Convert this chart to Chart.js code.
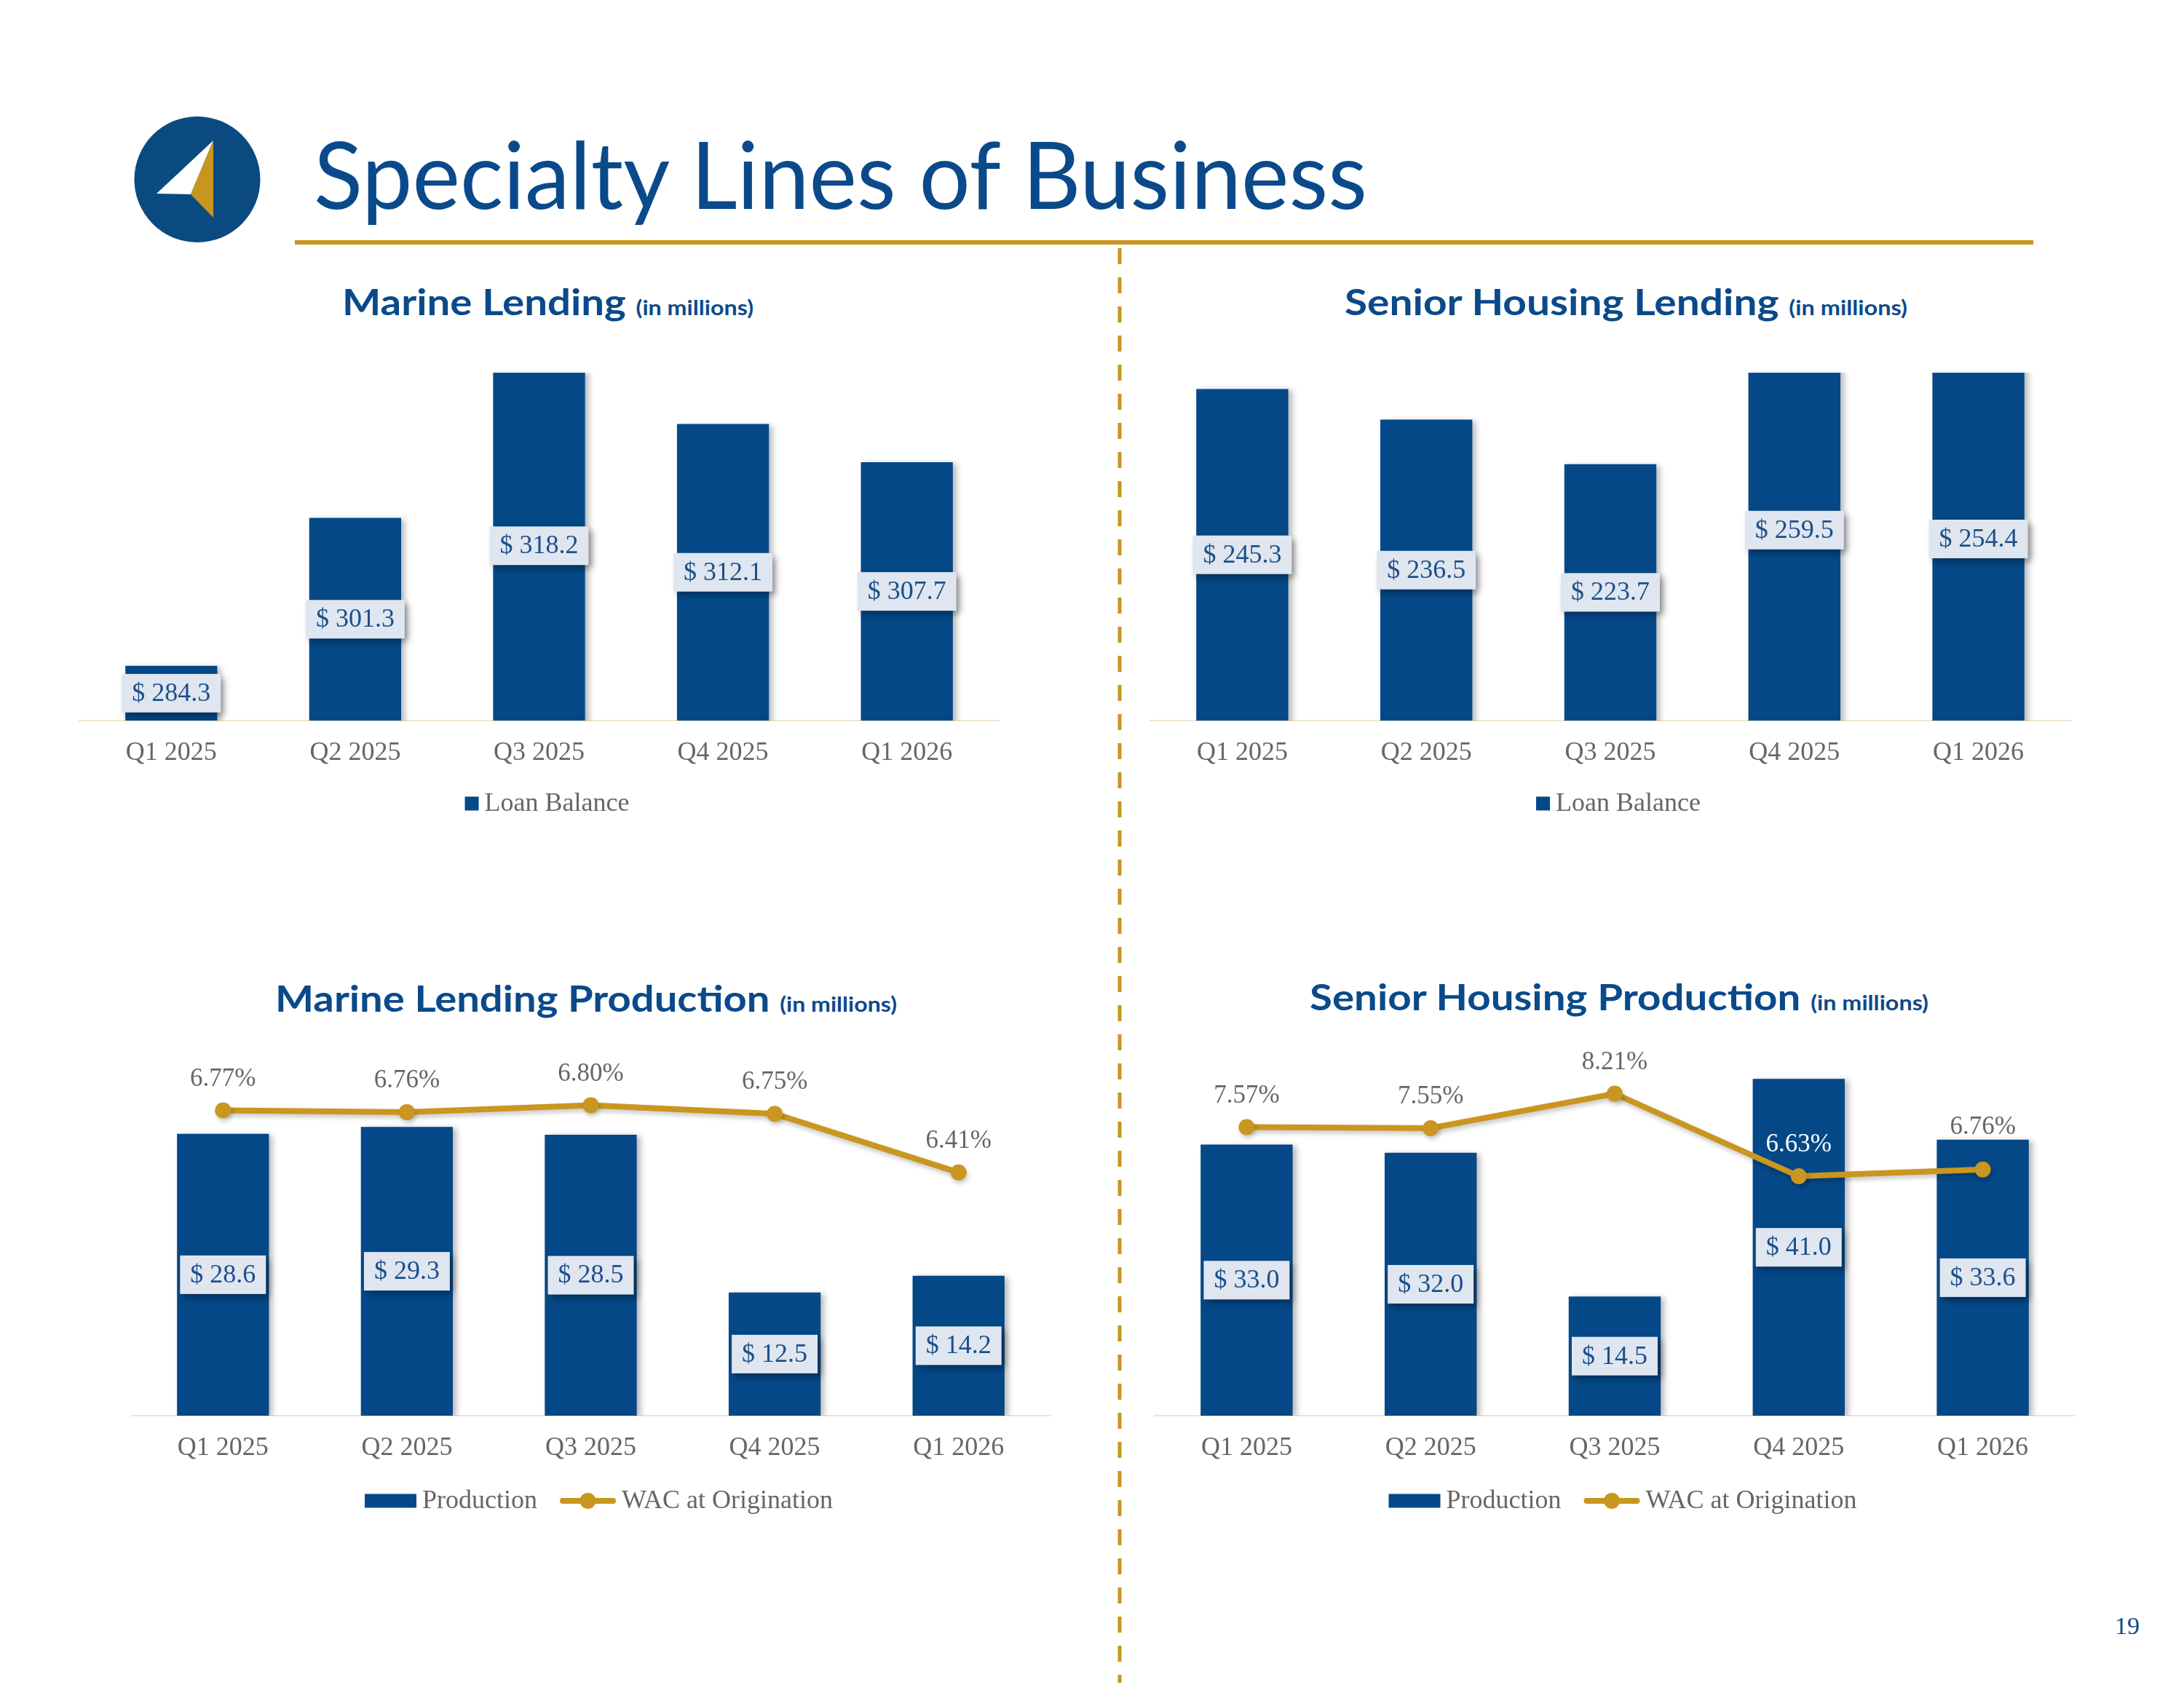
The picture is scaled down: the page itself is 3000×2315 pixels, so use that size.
<!DOCTYPE html>
<html><head><meta charset="utf-8">
<script src="https://cdn.jsdelivr.net/npm/chart.js@4.4.1/dist/chart.umd.min.js"></script>
<style>
html,body{margin:0;padding:0;background:#fff;}
body{width:3000px;height:2315px;position:relative;overflow:hidden;}
.t{position:absolute;left:0;top:0;white-space:nowrap;transform-origin:0 0;color:#0a4a8a;font-family:Lato,"Open Sans",sans-serif;line-height:1;}
.big{font-size:49px;font-weight:700;}
.small{font-size:28px;font-weight:700;}
canvas{position:absolute;}
</style></head><body>
<svg width="3000" height="2315" style="position:absolute;left:0;top:0">
  <circle cx="271" cy="246.5" r="86.5" fill="#0b4a80"/>
  <polygon points="293,193 215,266 262,267" fill="#ffffff"/>
  <polygon points="293,193 262,267 293,299" fill="#c8961e"/>
  <rect x="405" y="330" width="2388" height="6" fill="#c8961e"/>
  <line x1="1538" y1="341" x2="1538" y2="2312" stroke="#c8961e" stroke-width="5" stroke-dasharray="22 18"/>
</svg>
<div class="t" id="mainTitle" style="font-size:128px;font-weight:400">Specialty Lines of Business</div>
<div class="t" id="t1"><span class="big">Marine Lending </span><span class="small">(in millions)</span></div>
<div class="t" id="t2"><span class="big">Senior Housing Lending </span><span class="small">(in millions)</span></div>
<div class="t" id="t3"><span class="big">Marine Lending Production </span><span class="small">(in millions)</span></div>
<div class="t" id="t4"><span class="big">Senior Housing Production </span><span class="small">(in millions)</span></div>
<div class="t" id="pg" style="font-family:'Liberation Serif',serif;font-size:34px;">19</div>
<canvas id="c1"></canvas>
<canvas id="c2"></canvas>
<canvas id="c3"></canvas>
<canvas id="c4"></canvas>
<script>
// ---- data ----
const categories = ['Q1 2025', 'Q2 2025', 'Q3 2025', 'Q4 2025', 'Q1 2026'];
const marineLoanBalance = [284.3, 301.3, 318.2, 312.1, 307.7];
const seniorLoanBalance = [245.3, 236.5, 223.7, 259.5, 254.4];
const marineProduction = [28.6, 29.3, 28.5, 12.5, 14.2];
const marineWAC = [6.77, 6.76, 6.80, 6.75, 6.41];
const seniorProduction = [33.0, 32.0, 14.5, 41.0, 33.6];
const seniorWAC = [7.57, 7.55, 8.21, 6.63, 6.76];

// ---- styles ----
const NAVY = '#044888';
const GOLD = '#c9961f';
const SERIF = '"Liberation Serif", "DejaVu Serif", serif';

function place(id, x, baseline, width) {
  const el = document.getElementById(id);
  const m = document.createElement('span');
  m.style.cssText = 'display:inline-block;width:0;height:0;vertical-align:baseline';
  el.appendChild(m);
  const r = el.getBoundingClientRect();
  const mr = m.getBoundingClientRect();
  const off = mr.top - r.top;
  el.style.left = x + 'px';
  el.style.top = (baseline - off) + 'px';
  if (width) el.style.transform = 'scaleX(' + (width / r.width) + ')';
}
place('mainTitle', 431, 287, 1447);
place('t1', 470, 433, 565);
place('t2', 1847, 433, 773);
place('t3', 378, 1390, 854);
place('t4', 1799, 1388, 850);
place('pg', 2905, 2245, 0);

const decor = {
  id: 'decor',
  beforeDatasetDraw(chart, args) {
    const ctx = chart.ctx;
    ctx.save();
    if (args.meta.type === 'bar') {
      ctx.shadowColor = 'rgba(0,0,0,0.28)'; ctx.shadowBlur = 8; ctx.shadowOffsetX = 5; ctx.shadowOffsetY = 2;
    } else {
      ctx.shadowColor = 'rgba(0,0,0,0.22)'; ctx.shadowBlur = 6; ctx.shadowOffsetX = 2; ctx.shadowOffsetY = 4;
    }
  },
  afterDatasetDraw(chart) { chart.ctx.restore(); },
  afterDatasetsDraw(chart) {
    const ctx = chart.ctx;
    const area = chart.chartArea;
    const ds0 = chart.data.datasets[0];
    const barMeta = chart.getDatasetMeta(0);
    const yScale = chart.scales.y;
    ctx.save();
    ctx.font = '36px ' + SERIF;
    ctx.textAlign = 'center'; ctx.textBaseline = 'middle';
    const barTops = [];
    barMeta.data.forEach((el, i) => {
      const v = ds0.data[i];
      const yv = yScale.getPixelForValue(v);
      const base = Math.min(el.base, area.bottom);
      barTops.push(Math.max(yv, area.top));
      const cy = (yv + base) / 2, cx = el.x;
      const txt = '$ ' + v.toFixed(1);
      const tw = ctx.measureText(txt).width;
      const bw = tw + 28, bh = 53;
      ctx.save();
      ctx.shadowColor = 'rgba(0,0,0,0.38)'; ctx.shadowBlur = 9; ctx.shadowOffsetX = 5; ctx.shadowOffsetY = 5;
      ctx.fillStyle = '#dfe6ef';
      ctx.fillRect(cx - bw / 2, cy - bh / 2, bw, bh);
      ctx.restore();
      ctx.fillStyle = '#1c4f8c';
      ctx.fillText(txt, cx, cy + 1);
    });
    if (chart.data.datasets.length > 1) {
      const ds1 = chart.data.datasets[1];
      const lineMeta = chart.getDatasetMeta(1);
      ctx.font = '35px ' + SERIF;
      lineMeta.data.forEach((el, i) => {
        let cy = el.y - 43;
        let color = '#666666';
        const top = barTops[i];
        if (cy > top + 20) color = '#ffffff';
        else if (Math.abs(cy - top) <= 20) cy = top - 17;
        ctx.fillStyle = color;
        ctx.fillText(ds1.data[i].toFixed(2) + '%', el.x, cy);
      });
    }
    ctx.restore();
  },
  afterDraw(chart) {
    const c = chart.options.plugins.decor;
    const ctx = chart.ctx;
    ctx.save();
    ctx.font = '36px ' + SERIF;
    const hasLine = chart.data.datasets.length > 1;
    const items = chart.data.datasets.map(ds => ({
      label: ds.label, line: ds.type === 'line',
      color: ds.type === 'line' ? ds.borderColor : ds.backgroundColor
    }));
    items.forEach(it => {
      it.sw = it.line ? 77 : (hasLine ? 71 : 19);
      it.tw = ctx.measureText(it.label).width;
    });
    const gapST = 8, gapItems = 31;
    let total = 0;
    items.forEach((it, i) => { total += it.sw + gapST + it.tw + (i ? gapItems : 0); });
    let x = c.legendCX - total / 2;
    const y = c.legendY;
    ctx.textBaseline = 'middle'; ctx.textAlign = 'left';
    items.forEach(it => {
      if (it.line) {
        ctx.strokeStyle = it.color; ctx.lineWidth = 8; ctx.lineCap = 'round';
        ctx.beginPath(); ctx.moveTo(x + 4, y); ctx.lineTo(x + it.sw - 4, y); ctx.stroke();
        ctx.fillStyle = it.color;
        ctx.beginPath(); ctx.arc(x + it.sw / 2, y, 11, 0, Math.PI * 2); ctx.fill();
      } else {
        ctx.fillStyle = it.color;
        ctx.fillRect(x, y - 9.5, it.sw, 19);
      }
      x += it.sw + gapST;
      ctx.fillStyle = '#666666';
      ctx.fillText(it.label, x, y + 1);
      x += it.tw + gapItems;
    });
    ctx.restore();
  }
};

function makeChart(cfg) {
  const padL = 40, padR = 40, padT = 70;
  const W = cfg.plotR - cfg.plotL + padL + padR;
  const left = cfg.plotL - padL, top = cfg.plotT - padT;
  const H = cfg.legendY + 50 - top;
  const axisH = H - padT - (cfg.plotB - cfg.plotT);
  const canvas = document.getElementById(cfg.id);
  canvas.width = W; canvas.height = H;
  canvas.style.left = left + 'px'; canvas.style.top = top + 'px';
  canvas.style.width = W + 'px'; canvas.style.height = H + 'px';

  const datasets = [{
    type: 'bar', label: cfg.barLabel, data: cfg.bars, yAxisID: 'y',
    backgroundColor: NAVY, borderWidth: 0,
    barPercentage: 0.5, categoryPercentage: 1.0, order: 2
  }];
  const scales = {
    x: {
      type: 'category', offset: true,
      grid: { display: false, drawTicks: false },
      border: { display: true, color: '#f0e6cc', width: 2 },
      ticks: { color: '#666666', font: { family: SERIF, size: 36 }, padding: 23, maxRotation: 0, autoSkip: false },
      afterFit: s => { s.height = axisH; }
    },
    y: { display: false, min: cfg.yMin, max: cfg.yMax }
  };
  if (cfg.line) {
    datasets.push({
      type: 'line', label: 'WAC at Origination', data: cfg.line, yAxisID: 'y1',
      borderColor: GOLD, backgroundColor: GOLD, borderWidth: 8,
      pointRadius: 11, pointBackgroundColor: GOLD, pointBorderWidth: 0,
      tension: 0, fill: false, order: 1
    });
    scales.y1 = { display: false, position: 'right', min: cfg.y1Min, max: cfg.y1Max };
  }
  return new Chart(canvas, {
    type: 'bar',
    data: { labels: categories, datasets },
    options: {
      responsive: false, maintainAspectRatio: false, animation: false,
      devicePixelRatio: 1, events: [],
      layout: { padding: { left: padL, right: padR, top: padT, bottom: 0 } },
      plugins: {
        legend: { display: false }, tooltip: { enabled: false }, title: { display: false },
        decor: { legendCX: (cfg.plotL + cfg.plotR) / 2 + 11 - left, legendY: cfg.legendY - top }
      },
      scales
    },
    plugins: [decor]
  });
}

makeChart({ id: 'c1', bars: marineLoanBalance, barLabel: 'Loan Balance', yMin: 278, yMax: 318,
  plotL: 109, plotR: 1372, plotT: 512, plotB: 990, legendY: 1104 });
makeChart({ id: 'c2', bars: seniorLoanBalance, barLabel: 'Loan Balance', yMin: 150, yMax: 250,
  plotL: 1580, plotR: 2844, plotT: 512, plotB: 990, legendY: 1104 });
makeChart({ id: 'c3', bars: marineProduction, barLabel: 'Production', line: marineWAC,
  yMin: 0, yMax: 35, y1Min: 5, y1Max: 7,
  plotL: 180, plotR: 1443, plotT: 1471, plotB: 1945, legendY: 2062 });
makeChart({ id: 'c4', bars: seniorProduction, barLabel: 'Production', line: seniorWAC,
  yMin: 0, yMax: 42, y1Min: 2.05, y1Max: 8.65,
  plotL: 1586, plotR: 2850, plotT: 1471, plotB: 1945, legendY: 2062 });
</script>
</body></html>
